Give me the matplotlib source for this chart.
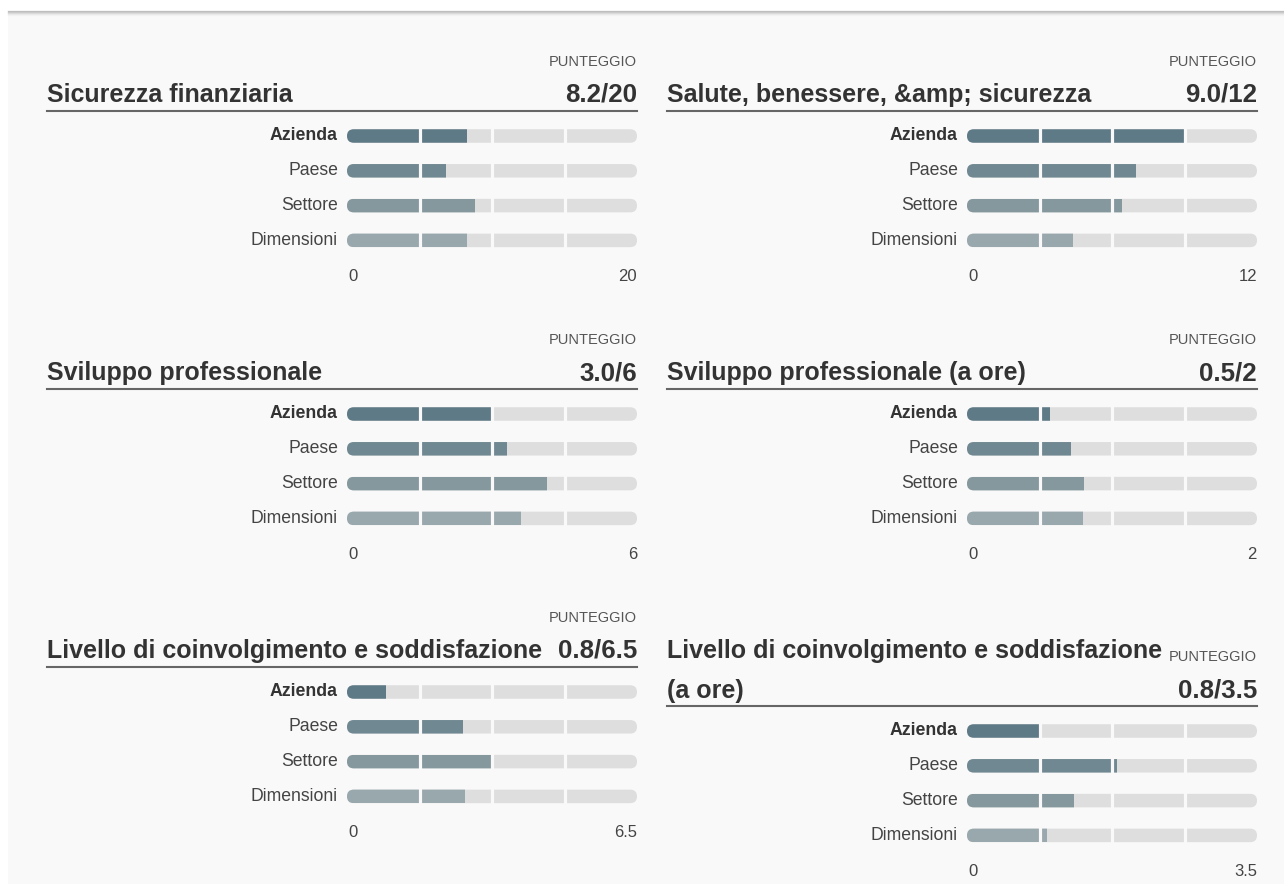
import matplotlib
matplotlib.use("Agg")
import matplotlib.pyplot as plt
from matplotlib.patches import FancyBboxPatch
from matplotlib.lines import Line2D

plt.rcParams['font.family'] = ['Liberation Sans', 'DejaVu Sans']

# ---------------- data ----------------
titles = ["Sicurezza finanziaria",
          "Salute, benessere, &amp; sicurezza",
          "Sviluppo professionale",
          "Sviluppo professionale (a ore)",
          "Livello di coinvolgimento e soddisfazione",
          "Livello di coinvolgimento e soddisfazione\n(a ore)"]
maxima = [20, 12, 6, 2, 6.5, 3.5]
max_labels = ["20", "12", "6", "2", "6.5", "3.5"]
scores = ["8.2", "9.0", "3.0", "0.5", "0.8", "0.8"]
categories = ["Azienda", "Paese", "Settore", "Dimensioni"]
azienda = [8.25, 9.0, 3.0, 0.57, 0.87, 0.875]
paese = [6.85, 7.0, 3.32, 0.72, 2.61, 1.81]
settore = [8.8, 6.4, 4.14, 0.81, 3.23, 1.29]
dimensioni = [8.28, 4.39, 3.59, 0.80, 2.65, 0.97]
series = [azienda, paese, settore, dimensioni]
colors = ["#5f7a87", "#708892", "#85989e", "#98a8ad"]
track_color = "#dedede"
bg = "#f9f9f9"

W, H = 1284, 884
fig = plt.figure(figsize=(W / 100, H / 100), dpi=100)
fig.patch.set_facecolor("white")


def fx(x):
    return x / W


def fy(y):
    return 1 - y / H


# page background + top shadow line
bgax = fig.add_axes([fx(8), 0, 1 - fx(8), fy(11)])
bgax.set_zorder(-10)
bgax.set_facecolor(bg)
bgax.set_xticks([])
bgax.set_yticks([])
for s in bgax.spines.values():
    s.set_visible(False)
for i, c in enumerate(["#bdbdbd", "#c8c8c8", "#d8d8d8", "#e8e8e8", "#f2f2f2"]):
    fig.lines.append(Line2D([fx(8), 1], [fy(10.5 + i), fy(10.5 + i)], transform=fig.transFigure,
                            color=c, lw=0.9, zorder=1))

col_left = [47, 667]
bar_left = [347, 967]
bar_w = 290
row_off = [0, 278, 556]
title_c = "#333333"
label_c = "#444444"
tfs = 18.0
sfs = 18.6

for p in range(6):
    col = p % 2
    r = p // 2
    off = row_off[r]
    two_line = "\n" in titles[p]
    extra = 39 if two_line else 0
    lx = col_left[col]
    rx = bar_left[col] + bar_w

    # header
    if two_line:
        t1, t2 = titles[p].split("\n")
        fig.text(fx(lx), fy(95 + off), t1, ha="left", va="center", fontsize=tfs,
                 fontweight="bold", color=title_c)
        fig.text(fx(lx), fy(95 + off + 40), t2, ha="left", va="center", fontsize=tfs,
                 fontweight="bold", color=title_c)
        fig.text(fx(rx), fy(101 + off), "PUNTEGGIO", ha="right", va="center", fontsize=10.5,
                 color="#555555")
        fig.text(fx(rx), fy(95 + off + 40), f"{scores[p]}/{max_labels[p]}", ha="right",
                 va="center", fontsize=sfs, fontweight="bold", color=title_c)
    else:
        fig.text(fx(lx), fy(95 + off), titles[p], ha="left", va="center", fontsize=tfs,
                 fontweight="bold", color=title_c)
        fig.text(fx(rx), fy(62 + off), "PUNTEGGIO", ha="right", va="center", fontsize=10.5,
                 color="#555555")
        fig.text(fx(rx), fy(95 + off), f"{scores[p]}/{max_labels[p]}", ha="right",
                 va="center", fontsize=sfs, fontweight="bold", color=title_c)
    ly = 111 + off + extra
    fig.lines.append(Line2D([fx(lx), fx(rx)], [fy(ly), fy(ly)], transform=fig.transFigure,
                            color="#666666", lw=1.5))

    # bars axes
    row0 = 136 + off + extra
    step = 34.8
    ax = fig.add_axes([fx(bar_left[col]), fy(row0 + 3 * step + step / 2), bar_w / W, 4 * step / H])
    ax.set_zorder(5)
    ax.set_xlim(0, maxima[p])
    ax.set_ylim(3.5, -0.5)
    ax.axis("off")
    m = maxima[p]
    bh_px = 13.5
    bh = bh_px / step
    rad_px = bh_px / 2
    rad_x = rad_px * m / bar_w
    aspect = bar_w / (step * m)
    for i, cat in enumerate(categories):
        track = FancyBboxPatch((0, i - bh / 2), m, bh,
                               boxstyle=f"round,pad=0,rounding_size={rad_x}",
                               mutation_aspect=aspect, facecolor=track_color,
                               edgecolor="none", clip_on=False, zorder=1)
        ax.add_patch(track)
        bars = ax.barh([i], [series[i][p]], height=bh + 0.02, left=0, color=colors[i],
                       zorder=2)
        for b in bars:
            b.set_clip_path(track)
        ax.text(-9 * m / bar_w, i, cat, ha="right", va="center", fontsize=12.7,
                color="#333333" if i == 0 else label_c,
                fontweight="bold" if i == 0 else "normal", clip_on=False)
    for q in (0.25, 0.5, 0.75):
        ax.vlines(m * q, -0.5, 3.5, color=bg, lw=2.3, zorder=3)
    ax.text(1.0 * m / bar_w, 3 + 36 / step, "0", ha="left", va="center", fontsize=12,
            color=label_c, clip_on=False)
    ax.text(m, 3 + 36 / step, max_labels[p], ha="right", va="center", fontsize=12,
            color=label_c, clip_on=False)

fig.savefig("out.png", dpi=100, facecolor=fig.get_facecolor())
